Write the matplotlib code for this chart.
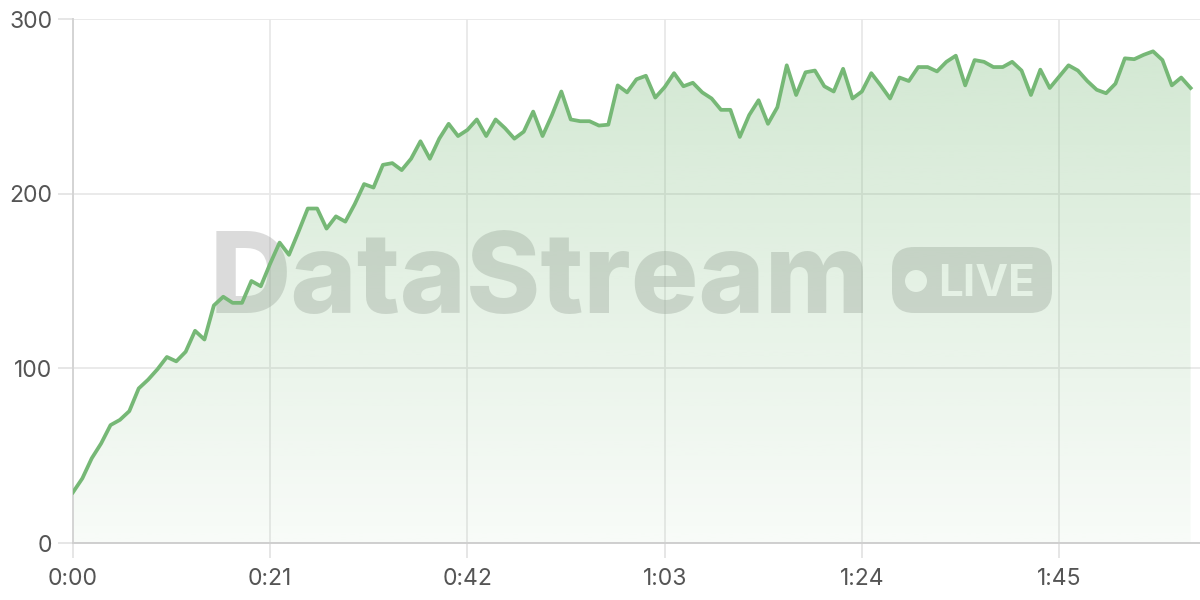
import numpy as np
import matplotlib
matplotlib.use("Agg")
import matplotlib.pyplot as plt
from matplotlib.colors import to_rgb
from matplotlib.patches import FancyBboxPatch, Circle

# active users per second of the stream
users = [29, 37, 48.5, 57, 67.5, 70.5, 75.5, 88.5, 93.5, 99.5,
         106.5, 104, 109.5, 121.5, 116.5, 136, 141, 137.5, 137.5, 150,
         147, 160, 172, 165, 178, 191.5, 191.5, 180, 187, 184,
         194, 205.5, 203.5, 216.5, 217.5, 213.5, 220, 230, 220, 231.5,
         240, 233, 236.5, 242.5, 233, 242.5, 237.5, 231.5, 235.5, 247,
         233, 245, 258.5, 242.5, 241.5, 241.5, 239, 239.5, 262, 258,
         265.5, 267.5, 255, 261, 269, 261.5, 263.5, 258, 254.5, 248,
         248, 232.5, 245, 253.5, 240, 249.5, 273.5, 256.5, 269.5, 270.5,
         261.5, 258.5, 271.5, 254.5, 258.5, 269, 262, 254.5, 266.5, 264.5,
         272.5, 272.5, 270, 275.5, 279, 262, 276.5, 275.5, 272.5, 272.5,
         275.5, 270.5, 256.5, 271, 260.5, 267, 273.5, 270.5, 264.5, 259.5,
         257.5, 263, 277.5, 277, 279.5, 281.5, 276.5, 262, 266.5, 260.5]
seconds = np.arange(len(users))

x_ticks = [0, 21, 42, 63, 84, 105]
x_labels = ["0:00", "0:21", "0:42", "1:03", "1:24", "1:45"]
y_ticks = [0, 100, 200, 300]

green = "#76b876"
font = ["Inter", "DejaVu Sans"]

fig = plt.figure(figsize=(12, 6), dpi=100)
ax = fig.add_axes([0.0608, 0.095, 0.9392, 0.8733])
ax.set_xlim(0, 120)
ax.set_ylim(0, 300)
ax.set_axisbelow(True)
ax.grid(True, color="#e8e8e8", linewidth=1.3)

for s in ["top", "right"]:
    ax.spines[s].set_visible(False)
ax.spines["left"].set_color("#d4d4d4")
ax.spines["bottom"].set_color("#cfcfcf")
ax.spines["left"].set_linewidth(1.4)
ax.spines["bottom"].set_linewidth(1.4)

ax.set_xticks(x_ticks)
ax.set_xticklabels(x_labels)
ax.set_yticks(y_ticks)
ax.tick_params(axis="both", length=11, width=1.3, color="#e4e4e4",
               labelcolor="#555555", labelsize=16.5)
ax.tick_params(axis="x", pad=7)
ax.tick_params(axis="y", pad=4)
for lab in ax.get_xticklabels() + ax.get_yticklabels():
    lab.set_family(font)

# watermark (below the fill)
wm = ax.text(2.10, 2.87, "DataStream", transform=fig.dpi_scale_trans,
             fontsize=84, fontweight="heavy", family=["Inter", "DejaVu Sans"],
             color="#9a9a9a", alpha=0.35, zorder=0.8, ha="left", va="baseline",
             clip_on=False)
badge = FancyBboxPatch((8.92, 2.87), 1.60, 0.66,
                       boxstyle="round,pad=0,rounding_size=0.22",
                       transform=fig.dpi_scale_trans, facecolor="#9a9a9a",
                       alpha=0.35, edgecolor="none", zorder=0.8, clip_on=False)
ax.add_patch(badge)
dot = Circle((9.16, 3.19), 0.11, transform=fig.dpi_scale_trans,
             facecolor="white", edgecolor="none", zorder=0.85, clip_on=False)
ax.add_patch(dot)
live = ax.text(9.38, 3.04, "LIVE", transform=fig.dpi_scale_trans,
               fontsize=33, fontweight="bold", family=["Inter", "DejaVu Sans"],
               color="white", zorder=0.85, ha="left", va="baseline", clip_on=False)

fig.canvas.draw()
r = fig.canvas.get_renderer()
wm.set_fontsize(84 * 660 / wm.get_window_extent(r).width)
live.set_fontsize(33 * 97 / live.get_window_extent(r).width)

# gradient area under the line
poly = ax.fill_between(seconds, users, 0, color="none", zorder=1)
rgb = to_rgb(green)
grad = np.zeros((256, 1, 4))
grad[:, 0, :3] = rgb
grad[:, 0, 3] = np.linspace(0.34, 0.05, 256)
img = ax.imshow(grad, extent=[0, 120, 0, 300], origin="upper", aspect="auto",
                zorder=1, interpolation="bilinear")
img.set_clip_path(poly.get_paths()[0], transform=ax.transData)

ax.plot(seconds, users, color=green, linewidth=2.7, solid_joinstyle="round",
        zorder=3)

fig.savefig("out.png", dpi=100)
